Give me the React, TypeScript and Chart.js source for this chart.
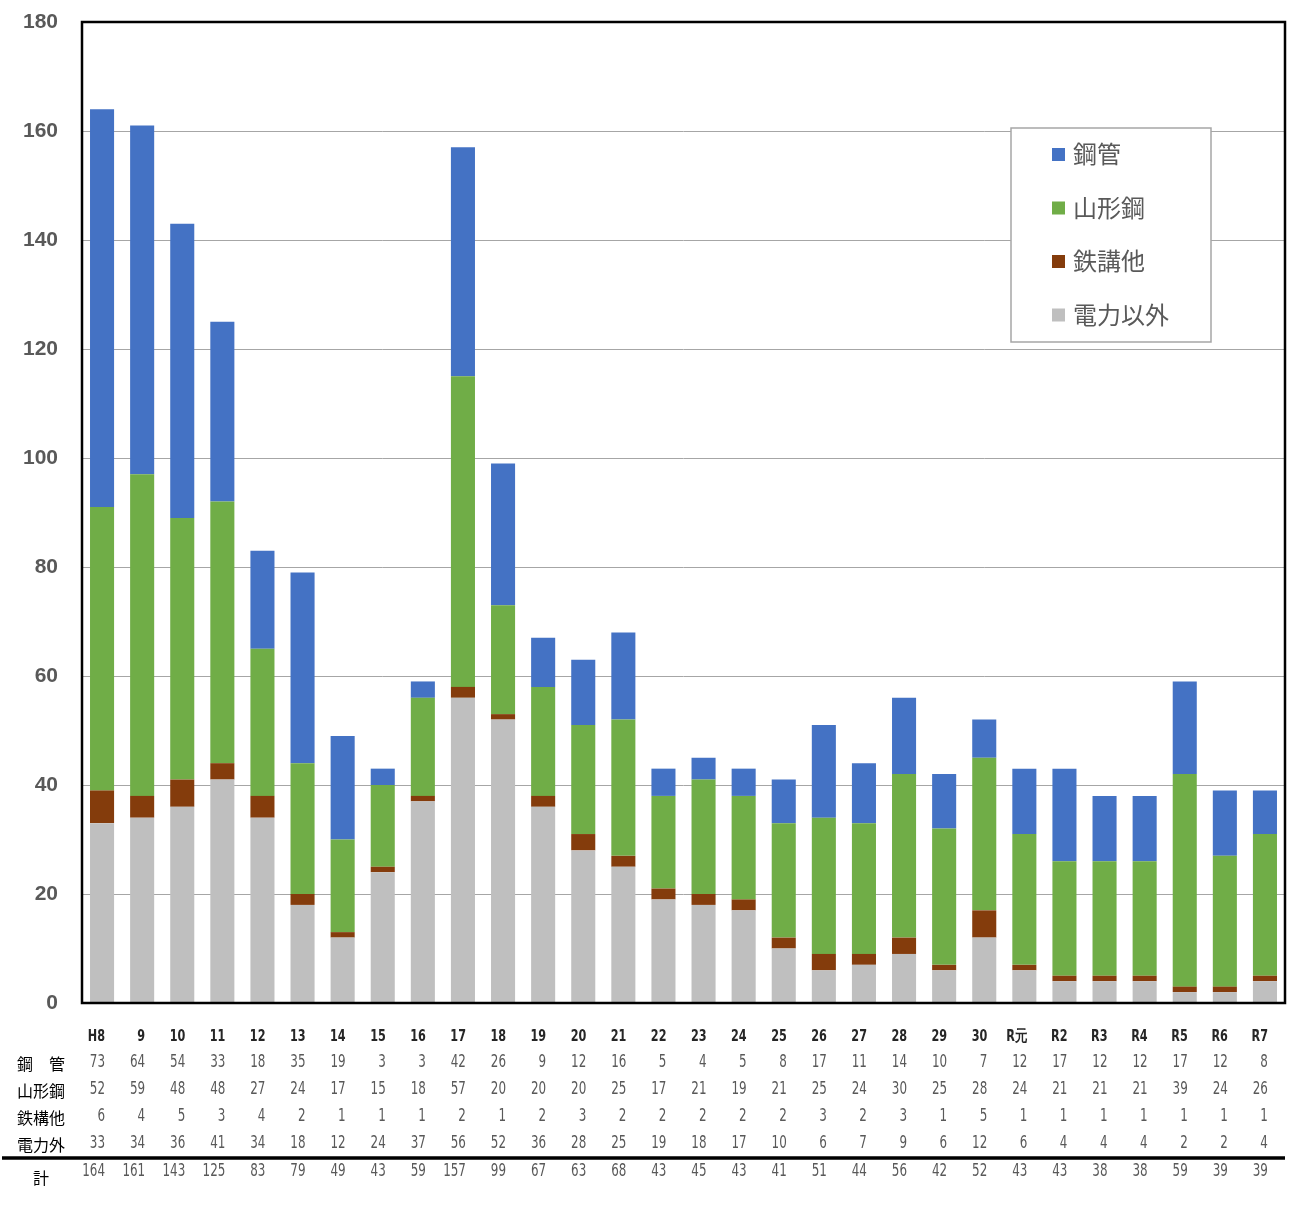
import React, { useEffect, useRef } from 'react';
import { Chart, registerables } from 'chart.js';

Chart.register(...registerables);

const categories = ['H8', '9', '10', '11', '12', '13', '14', '15', '16', '17', '18', '19', '20', '21', '22', '23', '24', '25', '26', '27', '28', '29', '30', 'R元', 'R2', 'R3', 'R4', 'R5', 'R6', 'R7'];
const koukan = [73, 64, 54, 33, 18, 35, 19, 3, 3, 42, 26, 9, 12, 16, 5, 4, 5, 8, 17, 11, 14, 10, 7, 12, 17, 12, 12, 17, 12, 8];
const yamagata = [52, 59, 48, 48, 27, 24, 17, 15, 18, 57, 20, 20, 20, 25, 17, 21, 19, 21, 25, 24, 30, 25, 28, 24, 21, 21, 21, 39, 24, 26];
const tekkou = [6, 4, 5, 3, 4, 2, 1, 1, 1, 2, 1, 2, 3, 2, 2, 2, 2, 2, 3, 2, 3, 1, 5, 1, 1, 1, 1, 1, 1, 1];
const denryoku = [33, 34, 36, 41, 34, 18, 12, 24, 37, 56, 52, 36, 28, 25, 19, 18, 17, 10, 6, 7, 9, 6, 12, 6, 4, 4, 4, 2, 2, 4];
const totals = [164, 161, 143, 125, 83, 79, 49, 43, 59, 157, 99, 67, 63, 68, 43, 45, 43, 41, 51, 44, 56, 42, 52, 43, 43, 38, 38, 59, 39, 39];

const seriesLabels = ['鋼管', '山形鋼', '鉄講他', '電力以外'];
const rowLabels = [['鋼', '', '管'], ['山', '形', '鋼'], ['鉄', '構', '他'], ['電', '力', '外']];
const totalLabel = '計';

const BLUE = '#4472C4';
const GREEN = '#70AD47';
const BROWN = '#843C0C';
const GRAY = '#BFBFBF';

const CJK = '"Noto Sans CJK JP", sans-serif';
const NARROW = '"Liberation Sans Narrow", "DejaVu Sans Condensed", sans-serif';

const drawNarrow = (ctx: CanvasRenderingContext2D, text: string, x: number, y: number) => {
    ctx.save();
    ctx.translate(x, y);
    ctx.scale(0.78, 1);
    ctx.fillText(text, 0, 0);
    ctx.restore();
};

const extrasPlugin = {
    id: 'extras',
    afterDraw(chart: any) {
        const { ctx, chartArea } = chart;
        const xs = chart.scales.x;

        // plot frame
        ctx.save();
        ctx.strokeStyle = '#000';
        ctx.lineWidth = 2.5;
        ctx.strokeRect(chartArea.left, chartArea.top, chartArea.right - chartArea.left, chartArea.bottom - chartArea.top);
        ctx.restore();

        // legend box
        ctx.save();
        ctx.fillStyle = '#fff';
        ctx.fillRect(1011, 128, 200, 214);
        ctx.strokeStyle = '#A6A6A6';
        ctx.lineWidth = 1.5;
        ctx.strokeRect(1011, 128, 200, 214);
        const legendItems = [...chart.data.datasets].reverse();
        ctx.font = `24px ${CJK}`;
        ctx.textBaseline = 'middle';
        ctx.textAlign = 'left';
        legendItems.forEach((ds: any, i: number) => {
            const y = 154 + i * 53.5;
            ctx.fillStyle = ds.backgroundColor;
            ctx.fillRect(1052, y - 6, 13, 13);
            ctx.fillStyle = '#595959';
            ctx.fillText(ds.label, 1073, y);
        });
        ctx.restore();

        // data table under the plot
        ctx.save();
        ctx.textBaseline = 'middle';
        ctx.textAlign = 'right';
        const rows = [koukan, yamagata, tekkou, denryoku];
        const rowY = [1063, 1090, 1117, 1144];
        categories.forEach((c, i) => {
            const x = xs.getPixelForValue(i) + 3;
            ctx.fillStyle = '#262626';
            ctx.font = `bold 16px ${NARROW}`;
            drawNarrow(ctx, c, x, 1037);
            ctx.fillStyle = '#595959';
            ctx.font = `17px ${NARROW}`;
            rows.forEach((r, k) => drawNarrow(ctx, String(r[i]), x, rowY[k]));
            drawNarrow(ctx, String(totals[i]), x, 1172);
        });

        ctx.textAlign = 'center';
        ctx.fillStyle = '#000';
        ctx.font = `16px ${CJK}`;
        const charX = [25, 41, 57];
        rowLabels.forEach((chars, k) => {
            chars.forEach((ch, j) => {
                if (ch) ctx.fillText(ch, charX[j], rowY[k] + 1);
            });
        });
        ctx.fillText(totalLabel, 41, 1178);

        ctx.strokeStyle = '#000';
        ctx.lineWidth = 3.5;
        ctx.beginPath();
        ctx.moveTo(2, 1158);
        ctx.lineTo(chartArea.right, 1158);
        ctx.stroke();
        ctx.restore();
    },
};

const App = () => {
    const chartRef = useRef<HTMLCanvasElement | null>(null);
    const chartInstanceRef = useRef<Chart | null>(null);

    useEffect(() => {
        document.body.style.margin = '0';
        const ctx = chartRef.current?.getContext('2d');
        if (ctx) {
            chartInstanceRef.current = new Chart(ctx, {
                type: 'bar',
                data: {
                    labels: categories,
                    datasets: [
                        { label: seriesLabels[3], data: denryoku, backgroundColor: GRAY },
                        { label: seriesLabels[2], data: tekkou, backgroundColor: BROWN },
                        { label: seriesLabels[1], data: yamagata, backgroundColor: GREEN },
                        { label: seriesLabels[0], data: koukan, backgroundColor: BLUE },
                    ],
                },
                options: {
                    responsive: false,
                    animation: false,
                    devicePixelRatio: 1,
                    layout: { padding: { left: 0, top: 22, right: 15, bottom: 227 } },
                    datasets: { bar: { barPercentage: 0.6, categoryPercentage: 1 } },
                    plugins: {
                        legend: { display: false },
                        tooltip: { enabled: false },
                    },
                    scales: {
                        x: {
                            stacked: true,
                            display: false,
                        },
                        y: {
                            stacked: true,
                            min: 0,
                            max: 180,
                            ticks: {
                                stepSize: 20,
                                padding: 24,
                                color: '#595959',
                                font: { family: '"Liberation Sans", Arial, sans-serif', size: 21, weight: 'bold' },
                            },
                            grid: { color: '#A6A6A6', lineWidth: 1, drawTicks: false },
                            border: { display: false },
                            afterFit: (scale: any) => {
                                scale.width = 82;
                                scale.paddingTop = 0;
                                scale.paddingBottom = 0;
                            },
                        },
                    },
                },
                plugins: [extrasPlugin],
            });
        }
        return () => {
            chartInstanceRef.current?.destroy();
        };
    }, []);

    return (
        <div style={{ width: 1300, height: 1230, background: '#fff' }}>
            <canvas ref={chartRef} width={1300} height={1230} style={{ width: 1300, height: 1230 }} />
        </div>
    );
};

export default App;
